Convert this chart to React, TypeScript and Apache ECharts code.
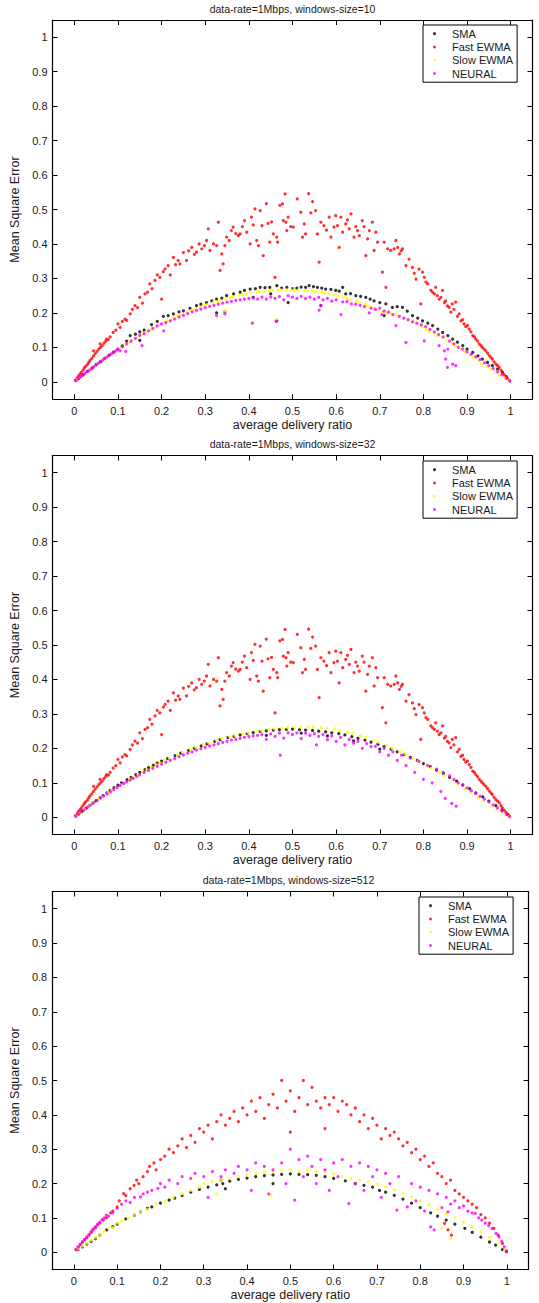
import React, { useEffect, useRef } from "react";
import * as echarts from "echarts";

type P = [number, number];

const seriesNames = ["SMA", "Fast EWMA", "Slow EWMA", "NEURAL"];
const seriesColors = ["#000000", "#ff0000", "#ffff00", "#ff00ff"];
const titles = [
  "data-rate=1Mbps, windows-size=10",
  "data-rate=1Mbps, windows-size=32",
  "data-rate=1Mbps, windows-size=512",
];
const xTicks = [0, 0.1, 0.2, 0.3, 0.4, 0.5, 0.6, 0.7, 0.8, 0.9, 1];
const yTicks = [0, 0.1, 0.2, 0.3, 0.4, 0.5, 0.6, 0.7, 0.8, 0.9, 1];
const xName = "average delivery ratio";
const yName = "Mean Square Error";

// ---------- window size 10 ----------
const sma10: P[] = [
  [0.004,0.004],[0.01,0.01],[0.02,0.02],[0.03,0.03],[0.041,0.04],[0.05,0.05],[0.06,0.058],[0.07,0.068],[0.08,0.077],[0.09,0.086],[0.1,0.095],[0.11,0.104],[0.12,0.118],[0.128,0.134],[0.14,0.138],[0.15,0.145],[0.15,0.12],[0.16,0.15],[0.177,0.166],[0.19,0.175],[0.204,0.19],[0.215,0.192],[0.227,0.197],[0.24,0.203],[0.25,0.206],[0.265,0.213],[0.28,0.221],[0.29,0.225],[0.303,0.23],[0.315,0.235],[0.326,0.24],[0.326,0.2],[0.338,0.243],[0.345,0.203],[0.349,0.25],[0.365,0.255],[0.38,0.26],[0.39,0.265],[0.403,0.269],[0.41,0.245],[0.415,0.27],[0.426,0.274],[0.437,0.273],[0.448,0.274],[0.45,0.255],[0.464,0.279],[0.464,0.177],[0.475,0.272],[0.487,0.274],[0.49,0.23],[0.5,0.27],[0.51,0.272],[0.52,0.275],[0.53,0.274],[0.538,0.279],[0.548,0.276],[0.557,0.274],[0.565,0.221],[0.567,0.272],[0.576,0.269],[0.588,0.268],[0.599,0.265],[0.607,0.263],[0.615,0.274],[0.622,0.255],[0.633,0.256],[0.645,0.25],[0.656,0.248],[0.668,0.245],[0.678,0.24],[0.687,0.235],[0.7,0.23],[0.71,0.192],[0.714,0.226],[0.729,0.216],[0.74,0.218],[0.752,0.216],[0.763,0.205],[0.775,0.192],[0.787,0.185],[0.798,0.177],[0.81,0.17],[0.821,0.163],[0.833,0.153],[0.844,0.143],[0.856,0.134],[0.867,0.124],[0.878,0.115],[0.89,0.105],[0.9,0.095],[0.913,0.085],[0.925,0.075],[0.935,0.066],[0.947,0.056],[0.958,0.047],[0.97,0.037],[0.981,0.027],[0.99,0.015],[0.997,0.003],
];
const fastEwma10: P[] = [
  [0.003,0.005],[0.007,0.011],[0.01,0.017],[0.013,0.022],[0.016,0.027],[0.02,0.034],[0.023,0.04],[0.026,0.045],[0.03,0.05],[0.033,0.056],[0.036,0.062],[0.04,0.068],[0.044,0.075],[0.044,0.09],[0.048,0.082],[0.052,0.088],[0.056,0.095],[0.059,0.11],[0.06,0.1],[0.064,0.105],[0.068,0.112],[0.072,0.118],[0.074,0.124],[0.078,0.122],[0.082,0.13],[0.089,0.143],[0.095,0.15],[0.1,0.168],[0.105,0.158],[0.11,0.175],[0.116,0.182],[0.12,0.178],[0.128,0.197],[0.133,0.21],[0.139,0.221],[0.145,0.215],[0.15,0.245],[0.156,0.228],[0.162,0.255],[0.168,0.26],[0.173,0.284],[0.178,0.27],[0.185,0.294],[0.19,0.31],[0.196,0.303],[0.2,0.24],[0.204,0.32],[0.208,0.328],[0.215,0.337],[0.22,0.31],[0.227,0.361],[0.232,0.34],[0.238,0.352],[0.242,0.342],[0.25,0.375],[0.257,0.352],[0.262,0.38],[0.269,0.39],[0.275,0.37],[0.28,0.376],[0.286,0.4],[0.292,0.386],[0.298,0.395],[0.303,0.41],[0.307,0.444],[0.311,0.381],[0.319,0.4],[0.326,0.395],[0.33,0.463],[0.334,0.323],[0.338,0.371],[0.341,0.342],[0.345,0.395],[0.349,0.42],[0.355,0.41],[0.36,0.439],[0.364,0.449],[0.37,0.43],[0.376,0.424],[0.38,0.429],[0.385,0.45],[0.39,0.468],[0.395,0.434],[0.403,0.4],[0.406,0.478],[0.41,0.455],[0.414,0.502],[0.418,0.41],[0.422,0.395],[0.426,0.497],[0.43,0.453],[0.433,0.366],[0.44,0.517],[0.444,0.46],[0.448,0.405],[0.452,0.464],[0.456,0.429],[0.46,0.303],[0.464,0.42],[0.466,0.405],[0.471,0.512],[0.477,0.516],[0.479,0.468],[0.483,0.545],[0.485,0.463],[0.487,0.439],[0.49,0.478],[0.496,0.45],[0.502,0.449],[0.511,0.531],[0.519,0.492],[0.523,0.42],[0.527,0.458],[0.53,0.429],[0.537,0.546],[0.542,0.49],[0.546,0.523],[0.553,0.497],[0.557,0.429],[0.561,0.347],[0.565,0.463],[0.572,0.453],[0.578,0.44],[0.584,0.478],[0.588,0.42],[0.595,0.449],[0.599,0.482],[0.603,0.453],[0.607,0.39],[0.611,0.478],[0.615,0.434],[0.622,0.458],[0.626,0.47],[0.63,0.444],[0.634,0.487],[0.641,0.42],[0.645,0.45],[0.649,0.439],[0.653,0.424],[0.66,0.468],[0.664,0.45],[0.668,0.366],[0.672,0.415],[0.676,0.439],[0.683,0.463],[0.687,0.381],[0.691,0.434],[0.695,0.405],[0.706,0.318],[0.71,0.405],[0.714,0.274],[0.718,0.386],[0.725,0.381],[0.733,0.386],[0.737,0.41],[0.741,0.39],[0.745,0.371],[0.749,0.38],[0.752,0.386],[0.76,0.337],[0.767,0.356],[0.775,0.332],[0.779,0.315],[0.783,0.298],[0.79,0.327],[0.794,0.226],[0.798,0.318],[0.802,0.303],[0.806,0.289],[0.81,0.284],[0.817,0.265],[0.821,0.26],[0.825,0.255],[0.828,0.274],[0.832,0.25],[0.836,0.24],[0.84,0.245],[0.844,0.265],[0.848,0.23],[0.851,0.235],[0.855,0.22],[0.859,0.216],[0.863,0.202],[0.866,0.226],[0.87,0.21],[0.874,0.231],[0.878,0.19],[0.882,0.197],[0.886,0.177],[0.89,0.18],[0.893,0.168],[0.897,0.16],[0.901,0.163],[0.905,0.153],[0.909,0.145],[0.913,0.134],[0.917,0.13],[0.92,0.124],[0.924,0.118],[0.928,0.11],[0.932,0.105],[0.935,0.1],[0.939,0.095],[0.943,0.09],[0.947,0.083],[0.951,0.076],[0.955,0.07],[0.958,0.066],[0.962,0.058],[0.966,0.051],[0.97,0.047],[0.974,0.042],[0.978,0.034],[0.981,0.027],[0.985,0.021],[0.989,0.015],[0.993,0.009],[0.997,0.003],
];
const slowEwma10: P[] = [
  [0.006,0.005],[0.014,0.013],[0.027,0.025],[0.036,0.034],[0.047,0.044],[0.055,0.052],[0.067,0.063],[0.076,0.071],[0.086,0.08],[0.097,0.09],[0.104,0.097],[0.117,0.107],[0.126,0.115],[0.133,0.121],[0.147,0.131],[0.158,0.139],[0.163,0.143],[0.176,0.151],[0.188,0.159],[0.196,0.166],[0.207,0.173],[0.213,0.177],[0.226,0.185],[0.237,0.191],[0.243,0.195],[0.257,0.201],[0.268,0.207],[0.274,0.21],[0.288,0.216],[0.297,0.221],[0.304,0.224],[0.317,0.229],[0.328,0.233],[0.334,0.236],[0.345,0.205],[0.347,0.24],[0.358,0.244],[0.363,0.246],[0.377,0.251],[0.386,0.253],[0.393,0.255],[0.404,0.258],[0.408,0.17],[0.418,0.26],[0.423,0.262],[0.436,0.263],[0.447,0.264],[0.452,0.266],[0.462,0.18],[0.467,0.266],[0.474,0.267],[0.486,0.267],[0.497,0.267],[0.503,0.266],[0.513,0.266],[0.527,0.265],[0.534,0.264],[0.546,0.263],[0.553,0.262],[0.567,0.26],[0.574,0.258],[0.584,0.255],[0.596,0.252],[0.603,0.249],[0.617,0.246],[0.624,0.242],[0.633,0.238],[0.647,0.234],[0.653,0.23],[0.667,0.225],[0.673,0.22],[0.686,0.214],[0.694,0.209],[0.706,0.203],[0.716,0.199],[0.724,0.2],[0.737,0.195],[0.743,0.19],[0.756,0.185],[0.764,0.18],[0.776,0.175],[0.784,0.168],[0.796,0.16],[0.806,0.152],[0.813,0.146],[0.826,0.14],[0.833,0.135],[0.846,0.128],[0.854,0.12],[0.866,0.112],[0.873,0.104],[0.886,0.096],[0.894,0.087],[0.907,0.079],[0.914,0.07],[0.926,0.062],[0.933,0.053],[0.946,0.045],[0.954,0.037],[0.966,0.028],[0.974,0.019],[0.986,0.011],[0.995,0.003],
];
const neural10: P[] = [
  [0.003,0.003],[0.008,0.008],[0.012,0.012],[0.016,0.016],[0.02,0.02],[0.025,0.025],[0.03,0.03],[0.035,0.034],[0.04,0.039],[0.045,0.044],[0.05,0.049],[0.055,0.054],[0.06,0.059],[0.065,0.063],[0.07,0.068],[0.075,0.072],[0.08,0.077],[0.085,0.081],[0.09,0.085],[0.095,0.09],[0.1,0.094],[0.105,0.09],[0.11,0.102],[0.118,0.088],[0.12,0.11],[0.13,0.118],[0.14,0.126],[0.15,0.135],[0.155,0.105],[0.16,0.14],[0.17,0.148],[0.18,0.155],[0.19,0.162],[0.2,0.168],[0.205,0.148],[0.21,0.172],[0.22,0.177],[0.23,0.182],[0.24,0.188],[0.25,0.193],[0.26,0.198],[0.27,0.203],[0.28,0.207],[0.29,0.211],[0.3,0.215],[0.31,0.219],[0.32,0.222],[0.326,0.192],[0.33,0.225],[0.34,0.228],[0.345,0.197],[0.35,0.231],[0.36,0.233],[0.37,0.236],[0.38,0.238],[0.39,0.24],[0.4,0.242],[0.408,0.17],[0.41,0.243],[0.42,0.24],[0.43,0.246],[0.44,0.24],[0.45,0.246],[0.46,0.242],[0.462,0.175],[0.47,0.247],[0.48,0.238],[0.49,0.25],[0.5,0.246],[0.51,0.242],[0.52,0.248],[0.53,0.242],[0.54,0.246],[0.55,0.24],[0.56,0.245],[0.561,0.208],[0.565,0.222],[0.57,0.238],[0.58,0.242],[0.59,0.234],[0.6,0.238],[0.611,0.195],[0.615,0.232],[0.625,0.233],[0.635,0.226],[0.645,0.225],[0.655,0.222],[0.665,0.218],[0.676,0.2],[0.68,0.214],[0.69,0.21],[0.7,0.214],[0.705,0.195],[0.71,0.205],[0.72,0.202],[0.73,0.195],[0.737,0.163],[0.745,0.19],[0.755,0.185],[0.76,0.114],[0.765,0.18],[0.775,0.174],[0.785,0.17],[0.795,0.165],[0.802,0.119],[0.805,0.16],[0.815,0.152],[0.825,0.145],[0.835,0.137],[0.836,0.105],[0.845,0.13],[0.848,0.09],[0.851,0.066],[0.855,0.042],[0.856,0.095],[0.86,0.118],[0.867,0.051],[0.87,0.11],[0.874,0.047],[0.88,0.1],[0.89,0.095],[0.9,0.087],[0.91,0.08],[0.92,0.072],[0.93,0.064],[0.94,0.055],[0.95,0.047],[0.96,0.038],[0.97,0.029],[0.98,0.02],[0.99,0.01],[0.998,0.002],
];

// ---------- window size 32 ----------
const sma32: P[] = [
  [0.004,0.004],[0.011,0.01],[0.018,0.018],[0.027,0.026],[0.034,0.033],[0.043,0.041],[0.05,0.048],[0.059,0.056],[0.066,0.063],[0.075,0.071],[0.082,0.078],[0.091,0.086],[0.1,0.093],[0.108,0.1],[0.121,0.109],[0.13,0.116],[0.141,0.124],[0.15,0.13],[0.162,0.138],[0.17,0.144],[0.181,0.151],[0.19,0.157],[0.2,0.163],[0.214,0.17],[0.231,0.179],[0.244,0.186],[0.262,0.194],[0.275,0.2],[0.291,0.207],[0.304,0.213],[0.322,0.22],[0.334,0.225],[0.352,0.231],[0.366,0.235],[0.38,0.239],[0.396,0.243],[0.41,0.246],[0.426,0.249],[0.44,0.251],[0.456,0.253],[0.47,0.254],[0.486,0.255],[0.5,0.256],[0.516,0.254],[0.53,0.253],[0.546,0.252],[0.56,0.25],[0.576,0.248],[0.59,0.245],[0.606,0.243],[0.62,0.239],[0.636,0.234],[0.65,0.229],[0.666,0.224],[0.68,0.218],[0.696,0.212],[0.71,0.205],[0.726,0.198],[0.74,0.19],[0.756,0.182],[0.77,0.174],[0.786,0.165],[0.8,0.156],[0.816,0.147],[0.83,0.137],[0.846,0.127],[0.86,0.116],[0.876,0.105],[0.89,0.094],[0.906,0.083],[0.92,0.071],[0.936,0.059],[0.95,0.047],[0.966,0.034],[0.98,0.021],[0.993,0.008],
  [0.44,0.238],[0.52,0.244],[0.58,0.236],[0.64,0.222],[0.7,0.198],
];
const fastEwma32: P[] = fastEwma10;
const slowEwma32: P[] = [
  [0.005,0.004],[0.013,0.012],[0.024,0.022],[0.035,0.033],[0.045,0.042],[0.056,0.052],[0.064,0.059],[0.077,0.07],[0.085,0.077],[0.096,0.086],[0.106,0.094],[0.116,0.102],[0.127,0.11],[0.135,0.116],[0.146,0.124],[0.157,0.132],[0.166,0.138],[0.177,0.145],[0.188,0.152],[0.196,0.158],[0.207,0.165],[0.218,0.171],[0.236,0.181],[0.248,0.188],[0.266,0.197],[0.278,0.203],[0.296,0.21],[0.308,0.216],[0.326,0.223],[0.338,0.228],[0.356,0.234],[0.368,0.238],[0.386,0.243],[0.398,0.246],[0.416,0.25],[0.428,0.252],[0.446,0.255],[0.458,0.257],[0.476,0.259],[0.488,0.26],[0.506,0.261],[0.518,0.262],[0.536,0.262],[0.548,0.262],[0.566,0.26],[0.578,0.258],[0.596,0.255],[0.608,0.252],[0.626,0.247],[0.638,0.243],[0.656,0.236],[0.668,0.231],[0.686,0.223],[0.698,0.217],[0.716,0.208],[0.728,0.201],[0.746,0.191],[0.758,0.184],[0.776,0.172],[0.788,0.164],[0.806,0.152],[0.818,0.143],[0.836,0.13],[0.848,0.121],[0.866,0.107],[0.878,0.097],[0.896,0.082],[0.908,0.072],[0.926,0.057],[0.938,0.047],[0.956,0.032],[0.968,0.022],[0.986,0.008],[0.996,0.002],
];
const neural32: P[] = [
  [0.003,0.003],[0.009,0.009],[0.015,0.015],[0.022,0.021],[0.03,0.029],[0.037,0.035],[0.045,0.043],[0.052,0.049],[0.06,0.056],[0.067,0.062],[0.075,0.068],[0.083,0.074],[0.09,0.08],[0.098,0.086],[0.105,0.092],[0.113,0.098],[0.12,0.103],[0.128,0.108],[0.135,0.113],[0.143,0.118],[0.15,0.123],[0.16,0.13],[0.17,0.136],[0.18,0.142],[0.19,0.148],[0.2,0.154],[0.21,0.16],[0.22,0.165],[0.23,0.17],[0.24,0.176],[0.25,0.181],[0.26,0.186],[0.27,0.19],[0.28,0.195],[0.29,0.199],[0.3,0.203],[0.31,0.207],[0.32,0.21],[0.33,0.214],[0.34,0.217],[0.35,0.22],[0.36,0.224],[0.37,0.226],[0.38,0.229],[0.39,0.232],[0.4,0.234],[0.41,0.236],[0.42,0.238],[0.43,0.24],[0.44,0.226],[0.45,0.242],[0.46,0.235],[0.47,0.244],[0.472,0.18],[0.48,0.23],[0.49,0.245],[0.5,0.24],[0.51,0.245],[0.52,0.228],[0.53,0.244],[0.54,0.238],[0.55,0.243],[0.555,0.21],[0.56,0.235],[0.57,0.24],[0.58,0.225],[0.59,0.236],[0.6,0.22],[0.61,0.232],[0.62,0.21],[0.63,0.226],[0.64,0.215],[0.65,0.22],[0.66,0.2],[0.67,0.214],[0.68,0.205],[0.69,0.206],[0.7,0.19],[0.71,0.2],[0.72,0.18],[0.73,0.19],[0.74,0.165],[0.75,0.18],[0.76,0.15],[0.77,0.172],[0.78,0.13],[0.79,0.162],[0.8,0.11],[0.81,0.15],[0.82,0.1],[0.83,0.14],[0.84,0.075],[0.845,0.13],[0.85,0.055],[0.86,0.12],[0.865,0.04],[0.87,0.11],[0.875,0.032],[0.88,0.1],[0.89,0.093],[0.9,0.085],[0.91,0.077],[0.92,0.069],[0.93,0.061],[0.94,0.053],[0.95,0.045],[0.96,0.036],[0.97,0.027],[0.98,0.018],[0.99,0.009],[0.998,0.002],
];

// ---------- window size 512 ----------
const sma512: P[] = [
  [0.01,0.008],[0.02,0.016],[0.03,0.024],[0.04,0.032],[0.05,0.04],[0.06,0.05],[0.076,0.065],[0.09,0.075],[0.1,0.082],[0.12,0.097],[0.14,0.108],[0.154,0.118],[0.17,0.128],[0.18,0.132],[0.2,0.143],[0.22,0.152],[0.233,0.158],[0.25,0.165],[0.27,0.175],[0.29,0.183],[0.31,0.19],[0.33,0.196],[0.344,0.2],[0.36,0.207],[0.38,0.212],[0.4,0.216],[0.42,0.22],[0.44,0.223],[0.46,0.225],[0.48,0.227],[0.5,0.228],[0.52,0.227],[0.54,0.226],[0.56,0.224],[0.58,0.22],[0.6,0.215],[0.627,0.208],[0.65,0.2],[0.67,0.195],[0.69,0.19],[0.706,0.18],[0.72,0.175],[0.74,0.166],[0.76,0.155],[0.78,0.143],[0.8,0.13],[0.824,0.115],[0.84,0.105],[0.86,0.094],[0.88,0.082],[0.903,0.07],[0.92,0.058],[0.94,0.044],[0.96,0.03],[0.974,0.021],[0.99,0.008],[0.999,0.002],
  [0.35,0.185],[0.46,0.2],[0.34,0.21],
];
const fastEwma512: P[] = [
  [0.005,0.008],[0.01,0.015],[0.015,0.022],[0.02,0.03],[0.025,0.036],[0.03,0.043],[0.035,0.05],[0.04,0.058],[0.044,0.065],[0.05,0.072],[0.055,0.08],[0.06,0.085],[0.068,0.094],[0.075,0.1],[0.085,0.115],[0.09,0.12],[0.1,0.132],[0.105,0.15],[0.115,0.171],[0.12,0.165],[0.13,0.185],[0.139,0.195],[0.145,0.21],[0.15,0.2],[0.16,0.22],[0.17,0.235],[0.175,0.25],[0.185,0.26],[0.19,0.24],[0.2,0.27],[0.21,0.28],[0.22,0.3],[0.23,0.29],[0.24,0.31],[0.25,0.33],[0.26,0.305],[0.27,0.34],[0.28,0.32],[0.29,0.36],[0.3,0.35],[0.31,0.37],[0.32,0.33],[0.33,0.38],[0.34,0.4],[0.35,0.37],[0.36,0.39],[0.37,0.41],[0.38,0.38],[0.39,0.42],[0.4,0.4],[0.41,0.44],[0.42,0.41],[0.43,0.45],[0.44,0.39],[0.45,0.43],[0.46,0.46],[0.47,0.42],[0.48,0.5],[0.49,0.44],[0.5,0.47],[0.5,0.35],[0.51,0.41],[0.52,0.45],[0.53,0.5],[0.54,0.43],[0.55,0.48],[0.56,0.44],[0.57,0.42],[0.58,0.45],[0.58,0.36],[0.59,0.43],[0.6,0.45],[0.61,0.41],[0.62,0.44],[0.63,0.43],[0.64,0.4],[0.65,0.42],[0.66,0.38],[0.67,0.4],[0.68,0.36],[0.69,0.39],[0.7,0.37],[0.71,0.33],[0.72,0.36],[0.73,0.34],[0.74,0.35],[0.75,0.33],[0.76,0.31],[0.77,0.32],[0.78,0.29],[0.79,0.3],[0.8,0.27],[0.81,0.28],[0.82,0.25],[0.83,0.26],[0.84,0.23],[0.85,0.22],[0.856,0.084],[0.86,0.2],[0.864,0.065],[0.87,0.21],[0.872,0.05],[0.88,0.18],[0.89,0.17],[0.9,0.16],[0.91,0.15],[0.92,0.14],[0.93,0.13],[0.94,0.11],[0.95,0.1],[0.96,0.085],[0.97,0.07],[0.98,0.05],[0.99,0.026],[0.998,0.005],
];
const slowEwma512: P[] = [
  [0.01,0.01],[0.02,0.018],[0.03,0.026],[0.04,0.035],[0.05,0.043],[0.06,0.05],[0.07,0.06],[0.08,0.07],[0.09,0.072],[0.1,0.085],[0.11,0.09],[0.125,0.1],[0.14,0.11],[0.154,0.118],[0.17,0.125],[0.19,0.14],[0.21,0.15],[0.23,0.16],[0.25,0.17],[0.27,0.18],[0.29,0.19],[0.3,0.2],[0.32,0.205],[0.33,0.17],[0.34,0.21],[0.36,0.215],[0.38,0.22],[0.4,0.225],[0.42,0.23],[0.44,0.235],[0.455,0.166],[0.46,0.235],[0.48,0.24],[0.5,0.24],[0.52,0.235],[0.54,0.24],[0.56,0.235],[0.58,0.232],[0.6,0.228],[0.62,0.22],[0.64,0.215],[0.66,0.21],[0.68,0.205],[0.7,0.198],[0.72,0.19],[0.74,0.182],[0.76,0.172],[0.78,0.162],[0.8,0.15],[0.82,0.138],[0.84,0.125],[0.85,0.07],[0.86,0.112],[0.87,0.04],[0.88,0.1],[0.9,0.088],[0.92,0.075],[0.94,0.06],[0.96,0.043],[0.98,0.025],[0.995,0.008],
];
const neural512: P[] = [
  [0.005,0.008],[0.01,0.016],[0.015,0.024],[0.02,0.03],[0.025,0.038],[0.03,0.045],[0.035,0.052],[0.04,0.06],[0.045,0.068],[0.05,0.075],[0.055,0.082],[0.06,0.088],[0.065,0.095],[0.07,0.1],[0.075,0.108],[0.08,0.105],[0.09,0.115],[0.1,0.128],[0.11,0.14],[0.12,0.15],[0.13,0.145],[0.14,0.16],[0.154,0.161],[0.16,0.17],[0.17,0.175],[0.18,0.18],[0.194,0.186],[0.2,0.2],[0.21,0.19],[0.22,0.21],[0.24,0.2],[0.25,0.22],[0.27,0.215],[0.28,0.23],[0.3,0.22],[0.31,0.16],[0.32,0.235],[0.34,0.22],[0.35,0.24],[0.37,0.23],[0.38,0.25],[0.4,0.24],[0.41,0.18],[0.42,0.26],[0.44,0.25],[0.45,0.17],[0.46,0.24],[0.48,0.26],[0.49,0.2],[0.5,0.3],[0.51,0.152],[0.52,0.27],[0.53,0.22],[0.54,0.28],[0.55,0.25],[0.56,0.2],[0.57,0.27],[0.58,0.24],[0.59,0.18],[0.6,0.26],[0.61,0.22],[0.62,0.27],[0.635,0.142],[0.64,0.25],[0.65,0.2],[0.66,0.26],[0.67,0.18],[0.68,0.25],[0.69,0.22],[0.7,0.24],[0.71,0.16],[0.72,0.23],[0.73,0.2],[0.746,0.123],[0.75,0.22],[0.77,0.132],[0.78,0.2],[0.79,0.15],[0.8,0.19],[0.81,0.12],[0.82,0.18],[0.824,0.074],[0.832,0.065],[0.84,0.17],[0.85,0.13],[0.86,0.16],[0.864,0.118],[0.87,0.14],[0.88,0.15],[0.89,0.13],[0.9,0.135],[0.91,0.12],[0.92,0.115],[0.927,0.113],[0.935,0.1],[0.942,0.094],[0.95,0.085],[0.958,0.078],[0.966,0.07],[0.975,0.055],[0.982,0.045],[0.988,0.032],[0.994,0.016],[0.999,0.003],
];

const panels = [
  { sma: sma10, fast: fastEwma10, slow: slowEwma10, neural: neural10 },
  { sma: sma32, fast: fastEwma32, slow: slowEwma32, neural: neural32 },
  { sma: sma512, fast: fastEwma512, slow: slowEwma512, neural: neural512 },
];

const FONT = "'Liberation Sans', Arial, Helvetica, sans-serif";
const TEXT = "#1a1a1a";

export default function App() {
  const ref = useRef<HTMLDivElement>(null);
  useEffect(() => {
    if (!ref.current) return;
    const chart = echarts.init(ref.current, undefined, { renderer: "svg" });
    const grids = [
      { left: 52.5, top: 20, width: 480, height: 379 },
      { left: 52.5, top: 455.5, width: 480, height: 379 },
      { left: 48.5, top: 891.5, width: 480, height: 378 },
    ];
    const line = { show: true, onZero: false, lineStyle: { color: "#000", width: 1.2 } };
    const xAxis: any[] = [];
    const yAxis: any[] = [];
    const series: any[] = [];
    const legend: any[] = [];
    const graphic: any[] = [];
    const legendPos = [
      { left: 423, top: 25 },
      { left: 423, top: 461 },
      { left: 419, top: 897 },
    ];
    grids.forEach((g, i) => {
      xAxis.push({
        type: "value", gridIndex: i, min: -0.05, max: 1.05, position: "bottom",
        axisLine: line,
        axisTick: { show: true, inside: true, length: 5, customValues: xTicks, lineStyle: { color: "#000" } },
        axisLabel: { show: true, customValues: xTicks, margin: 6, fontSize: 11, color: TEXT, fontFamily: FONT, formatter: (v: number) => String(v) },
        splitLine: { show: false },
        name: xName, nameLocation: "middle", nameGap: 19,
        nameTextStyle: { fontSize: 12.5, color: TEXT, fontFamily: FONT },
      });
      xAxis.push({
        type: "value", gridIndex: i, min: -0.05, max: 1.05, position: "top",
        axisLine: line,
        axisTick: { show: true, inside: true, length: 5, customValues: xTicks, lineStyle: { color: "#000" } },
        axisLabel: { show: false }, splitLine: { show: false },
      });
      yAxis.push({
        type: "value", gridIndex: i, min: -0.05, max: 1.05, position: "left",
        axisLine: line,
        axisTick: { show: true, inside: true, length: 5, customValues: yTicks, lineStyle: { color: "#000" } },
        axisLabel: { show: true, customValues: yTicks, margin: 5, fontSize: 11, color: TEXT, fontFamily: FONT, formatter: (v: number) => String(v) },
        splitLine: { show: false },
        name: yName, nameLocation: "middle", nameGap: 26,
        nameTextStyle: { fontSize: 12.5, color: TEXT, fontFamily: FONT },
      });
      yAxis.push({
        type: "value", gridIndex: i, min: -0.05, max: 1.05, position: "right",
        axisLine: line,
        axisTick: { show: true, inside: true, length: 5, customValues: yTicks, lineStyle: { color: "#000" } },
        axisLabel: { show: false }, splitLine: { show: false },
      });
      const p = panels[i];
      [p.sma, p.fast, p.slow, p.neural].forEach((d, k) => {
        series.push({
          type: "scatter", name: seriesNames[k], xAxisIndex: 2 * i, yAxisIndex: 2 * i,
          data: d, symbol: "circle", symbolSize: 3.2, silent: true,
          itemStyle: { color: seriesColors[k] }, z: 2 + k,
        });
      });
      legend.push({
        data: seriesNames, orient: "vertical", left: legendPos[i].left, top: legendPos[i].top,
        itemWidth: 25, itemHeight: 3, itemGap: 0, padding: [2, 4, 2, 10],
        borderColor: "#000", borderWidth: 1, backgroundColor: "#fff",
        icon: "circle", selectedMode: false, z: 10,
        textStyle: { fontSize: 11, lineHeight: 13.3, color: TEXT, fontFamily: FONT },
      });
      graphic.push({
        type: "text", x: g.left + g.width / 2, y: g.top - 11.5,
        style: { text: titles[i], align: "center", verticalAlign: "middle", fontSize: 10.5, fill: TEXT, fontFamily: FONT },
      });
    });
    chart.setOption({
      animation: false,
      backgroundColor: "#fff",
      grid: grids,
      xAxis, yAxis, series, legend, graphic,
    });
    return () => chart.dispose();
  }, []);
  return <div ref={ref} style={{ position: "absolute", left: 0, top: 0, width: 539, height: 1303 }} />;
}
